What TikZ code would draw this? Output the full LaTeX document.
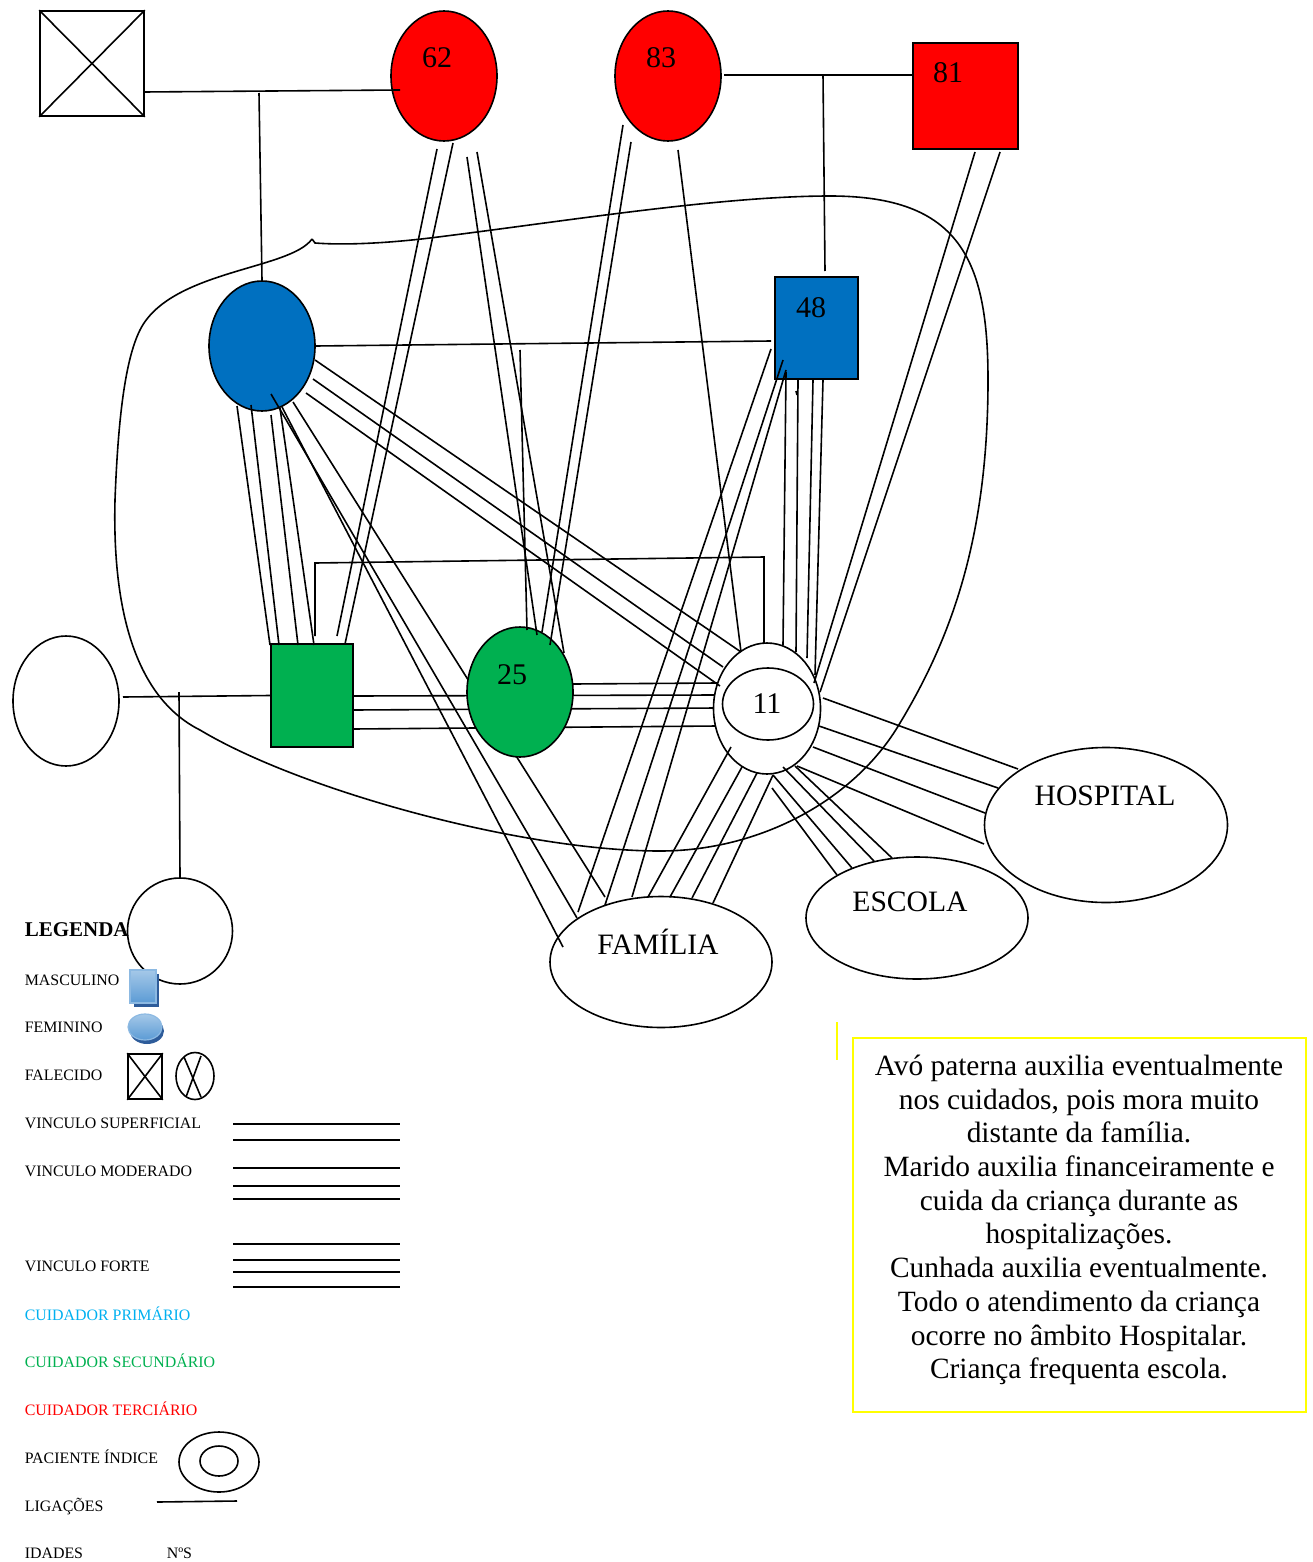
\documentclass[tikz,border=0pt]{standalone}
\usepackage{fontspec}
\setmainfont{Liberation Serif}
\usetikzlibrary{shapes.geometric}
\definecolor{myred}{HTML}{FF0000}
\definecolor{myblue}{HTML}{0070C0}
\definecolor{mygreen}{HTML}{00B050}
\definecolor{mycyan}{HTML}{00B0F0}
\definecolor{myyellow}{HTML}{FFFF00}
\definecolor{legblue}{HTML}{5B9BD5}
\definecolor{legdark}{HTML}{2E5C9A}
\begin{document}
\begin{tikzpicture}[x=0.5pt,y=-0.5pt,line width=0.8pt,
  fem/.style={ellipse,draw,inner sep=0pt,minimum width=53pt,minimum height=65pt},
  masc/.style={rectangle,draw,inner sep=0pt},
  oval/.style={ellipse,draw,fill=white,inner sep=0pt},
  lbl/.style={font=\fontsize{15}{18}\selectfont,inner sep=0pt},
  place/.style={font=\fontsize{14.8}{17}\selectfont,inner sep=0pt},
  leg/.style={font=\fontsize{7.95}{9}\selectfont,anchor=base west,inner sep=0pt},
  bond/.style={line width=0.8pt}]
\useasboundingbox (0,0) rectangle (1312,1562);

% enclosing household curve
\draw (312,239) -- (315,243) .. controls (340,245) and (380,244) .. (430,238)
  .. controls (560,222) and (720,196) .. (830,196)
  .. controls (960,196) and (988,260) .. (988,380)
  .. controls (988,540) and (950,640) .. (900,723)
  .. controls (855,800) and (760,851) .. (660,851)
  .. controls (520,851) and (300,790) .. (200,730)
  .. controls (140,700) and (112,620) .. (115,500)
  .. controls (118,420) and (125,360) .. (140,330)
  .. controls (170,270) and (290,270) .. (312,239);

% bonds that pass behind the green ellipse
\draw[bond] (293,402) -- (605,897);
\draw[bond] (353,696) -- (717,695);
\draw[bond] (353,710) -- (717,708);
\draw[bond] (353,729) -- (717,726);

% persons
\node[masc,minimum width=52pt,minimum height=52.5pt] (dec) at (92,63.5) {};
\draw (dec.north west) -- (dec.south east) (dec.north east) -- (dec.south west);
\node[fem,fill=myred] (n62) at (444,76) {};
\node[fem,fill=myred] (n83) at (668,76) {};
\node[masc,fill=myred,minimum width=52.5pt,minimum height=53pt] (n81) at (965.5,96) {};
\node[masc,fill=myblue,minimum width=41.5pt,minimum height=51pt] (n48) at (816.5,328) {};
\node[fem,fill=myblue] (mae) at (262,346) {};
\node[masc,fill=mygreen,minimum width=41pt,minimum height=51.5pt] (gsq) at (312,695.5) {};
\node[fem,fill=mygreen] (n25) at (520,692) {};
\node[fem,fill=white] (left) at (66,701) {};
\node[ellipse,draw,inner sep=0pt,minimum width=52.5pt,minimum height=53pt] (child) at (180,931) {};
\node[oval,minimum width=53.5pt,minimum height=65.5pt] (n11) at (767,708.5) {};
\node[ellipse,draw,inner sep=0pt,minimum width=45.5pt,minimum height=36pt] (n11i) at (768,704) {};
\node[oval,minimum width=121.5pt,minimum height=77.5pt] (hosp) at (1106,825) {};
\node[oval,minimum width=111pt,minimum height=61pt] (esc) at (917,918) {};
\node[oval,minimum width=111pt,minimum height=65.5pt] (fam) at (661,962) {};

% family ties
\draw (144,92) -- (400,90);
\draw (259,93) -- (mae.north);
\draw (724,75) -- (n81.west |- 0,75);
\draw (823,75) -- (825,271);
\draw (mae.east) -- (771,341);
\draw (123,697) -- (gsq.west);
\draw (179,692) -- (child.north);
\draw (315,636) -- (315,563) -- (764,557) -- (764,643);

% bonds
\draw[bond] (437,149) -- (337,636);
\draw[bond] (453,143) -- (345,644);
\draw[bond] (467,157) -- (537,635);
\draw[bond] (477,152) -- (564,653);
\draw[bond] (520,350) -- (527,630);
\draw[bond] (623,125) -- (542,632);
\draw[bond] (631,142) -- (550,645);
\draw[bond] (678,150) -- (741,652);
\draw[bond] (975,152) -- (814,683);
\draw[bond] (1000,152) -- (820,692);
\draw[bond] (786,372) -- (783,645);
\draw[bond] (798,380) -- (796,652);
\draw[bond] (813,380) -- (807,658);
\draw[bond] (823,380) -- (815,675);
\draw[bond] (796,391) -- (797,395);
\draw[bond] (771,349) -- (578,912);
\draw[bond] (783,360) -- (605,905);
\draw[bond] (786,370) -- (632,897);
\draw[bond] (237,406) -- (270,645);
\draw[bond] (251,405) -- (279,645);
\draw[bond] (271,415) -- (298,645);
\draw[bond] (280,408) -- (314,645);
\draw[bond] (271,394) -- (577,918);
\draw[bond] (282,407) -- (563,947);
\draw[bond] (315,360) -- (741,652);
\draw[bond] (313,379) -- (723,667);
\draw[bond] (306,393) -- (720,686);
\draw[bond] (573,684) -- (717,683);
\draw[bond] (731,747) -- (648,897);
\draw[bond] (742,767) -- (670,897);
\draw[bond] (757,773) -- (692,898);
\draw[bond] (773,775) -- (713,903);
\draw[bond] (772,788) -- (837,875);
\draw[bond] (773,775) -- (852,868);
\draw[bond] (783,767) -- (874,861);
\draw[bond] (795,766) -- (892,858);
\draw[bond] (823,698) -- (1018,769);
\draw[bond] (819,726) -- (998,788);
\draw[bond] (813,747) -- (985,813);
\draw[bond] (797,766) -- (984,844);

% labels
\node[lbl] (t62) at (437,58) {62};
\node[lbl] (t83) at (661,58) {83};
\node[lbl] (t81) at (948,73) {81};
\node[lbl] (t48) at (811,308) {48};
\node[lbl] (t25) at (512,675) {25};
\node[lbl] (t11) at (767,704) {11};
\node[place] (thosp) at (1105,796) {HOSPITAL};
\node[place] (tesc) at (910,902) {ESCOLA};
\node[place] (tfam) at (658,942) {FAMÍLIA};

% note box
\draw[myyellow,line width=1pt] (837,1022) -- (837,1060);
\draw[myyellow,line width=1pt] (853,1038) rectangle (1306,1412);
\node[align=center,inner sep=0pt,font=\fontsize{14.7}{16.85}\selectfont] (note) at (1079,1220)
 {Avó paterna auxilia eventualmente\\ nos cuidados, pois mora muito\\ distante da família.\\
  Marido auxilia financeiramente e\\ cuida da criança durante as\\ hospitalizações.\\
  Cunhada auxilia eventualmente.\\ Todo o atendimento da criança\\ ocorre no âmbito Hospitalar.\\
  Criança frequenta escola.};

% legend
\node[anchor=base west,inner sep=0pt,font=\fontsize{10.5}{12}\selectfont\bfseries] (lg) at (24,936) {LEGENDA};
\node[leg] (l1) at (24,985) {MASCULINO};
\node[leg] (l2) at (24,1032) {FEMININO};
\node[leg] (l3) at (24,1080) {FALECIDO};
\node[leg] (l4) at (24,1128) {VINCULO SUPERFICIAL};
\node[leg] (l5) at (24,1176) {VINCULO MODERADO};
\node[leg] (l6) at (24,1271) {VINCULO FORTE};
\node[leg,text=mycyan] (l7) at (24,1320) {CUIDADOR PRIMÁRIO};
\node[leg,text=mygreen] (l8) at (24,1367) {CUIDADOR SECUNDÁRIO};
\node[leg,text=myred] (l9) at (24,1415) {CUIDADOR TERCIÁRIO};
\node[leg] (l10) at (24,1463) {PACIENTE ÍNDICE};
\node[leg] (l11) at (24,1511) {LIGAÇÕES};
\node[leg] (l12) at (24,1558) {IDADES};
\node[leg] (l13) at (166,1558) {NºS};

\fill[legdark] (134,974) rectangle (159,1007);
\shade[top color=legblue!55,bottom color=legblue,draw=legblue!70,line width=0.6pt] (130,970) rectangle (156,1003);
\fill[legdark] (147,1031) ellipse [x radius=8.5pt,y radius=6.5pt];
\shade[top color=legblue!55,bottom color=legblue,draw=legblue!70,line width=0.6pt] (145,1027) ellipse [x radius=8.5pt,y radius=6.5pt];
\node[masc,minimum width=17pt,minimum height=22.5pt] (lsq) at (145,1076.5) {};
\draw (lsq.north west) -- (lsq.south east) (lsq.north east) -- (lsq.south west);
\node[ellipse,draw,inner sep=0pt,minimum width=19pt,minimum height=23.5pt] (lel) at (195,1076) {};
\draw (184,1057) -- (201,1097) (201,1056) -- (186,1097);
\foreach \yy in {1124,1140,1168,1186,1199,1244,1260,1272,1287}
  \draw (233,\yy) -- (400,\yy);
\node[ellipse,draw,inner sep=0pt,minimum width=40pt,minimum height=30pt] (lpo) at (219,1462) {};
\node[ellipse,draw,inner sep=0pt,minimum width=19pt,minimum height=15pt] (lpi) at (219,1461) {};
\draw (157,1502) -- (237,1501);
\end{tikzpicture}
\end{document}
